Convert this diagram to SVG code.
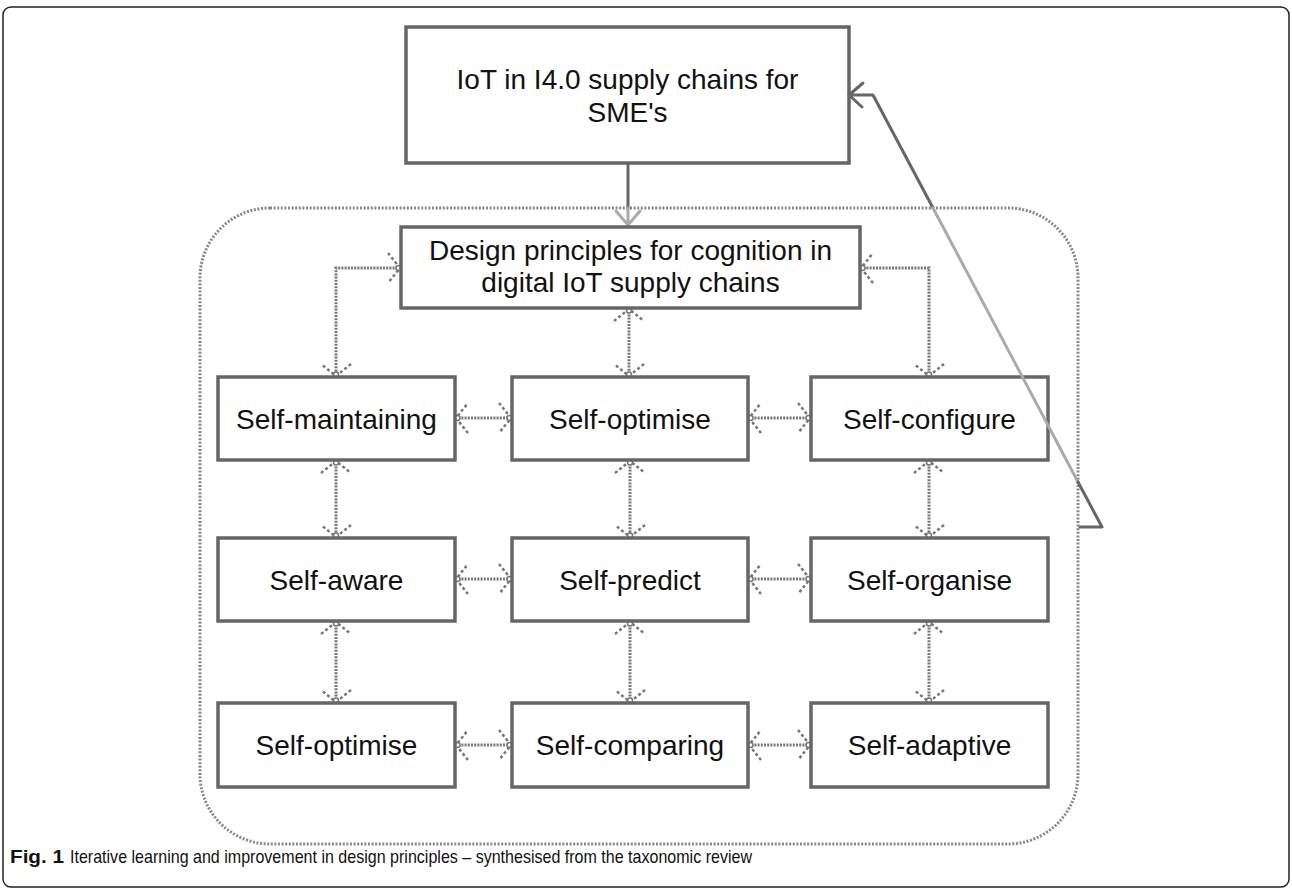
<svg xmlns="http://www.w3.org/2000/svg" width="1292" height="889" viewBox="0 0 1292 889">
<defs>
<style>
.box{fill:#fff;stroke:#666;stroke-width:3.5}
.lbl{font-family:"Liberation Sans",Arial,Helvetica,sans-serif;font-size:28px;fill:#111;text-anchor:middle}
.dot{fill:none;stroke:#777;stroke-width:3;stroke-dasharray:2 1.2;marker-start:url(#dh);marker-end:url(#dh)}
.cont{fill:none;stroke:#888;stroke-width:3;stroke-dasharray:2 1.6}
.dark{fill:none;stroke:#666;stroke-width:3;stroke-linecap:round;stroke-linejoin:round}
.light{fill:none;stroke:#aaa;stroke-width:3;stroke-linecap:round;stroke-linejoin:round}
.cap{font-family:"Liberation Sans",Arial,Helvetica,sans-serif;font-size:19px;fill:#111}
</style>
<marker id="dh" markerUnits="userSpaceOnUse" orient="auto-start-reverse" refX="0" refY="0" markerWidth="40" markerHeight="40" overflow="visible">
<path d="M -13 -15 L -1 0 L -13 15" fill="none" stroke="#777" stroke-width="2.5" stroke-dasharray="3 2.5"/>
<circle cx="-2.5" cy="0" r="2.5" fill="#fff" stroke="#777" stroke-width="1.5"/>
</marker>
</defs>
<rect x="3" y="7" width="1286" height="880" rx="8" fill="none" stroke="#222" stroke-width="1.5"/>
<g id="container">
<rect class="cont" x="200" y="208" width="878" height="636" rx="70"/>
</g>
<g id="connectors">
<path class="dark" d="M628 163 V208"/>
<path class="light" d="M628 208 V225 M616 211 L628 225 L640 211"/>
<path class="dot" d="M401 268 H336 V377"/>
<path class="dot" d="M860 268 H929 V377"/>
<path class="dot" d="M629 308 V377"/>
<path class="dot" d="M455 418 H512"/>
<path class="dot" d="M748 418 H811"/>
<path class="dot" d="M455 579 H512"/>
<path class="dot" d="M748 579 H811"/>
<path class="dot" d="M455 745 H512"/>
<path class="dot" d="M748 745 H811"/>
<path class="dot" d="M336 460 V538"/>
<path class="dot" d="M336 621 V703"/>
<path class="dot" d="M630 460 V538"/>
<path class="dot" d="M630 621 V703"/>
<path class="dot" d="M929 460 V538"/>
<path class="dot" d="M929 621 V703"/>
</g>
<g id="n-top"><rect class="box" x="406" y="27" width="443" height="136"/><text class="lbl" x="627.5" y="89">IoT in I4.0 supply chains for</text><text class="lbl" x="627.5" y="122">SME's</text></g>
<g id="n-design"><rect class="box" x="401" y="227" width="459" height="81"/><text class="lbl" x="630.5" y="260">Design principles for cognition in</text><text class="lbl" x="630.5" y="292">digital IoT supply chains</text></g>
<g id="n-maintaining"><rect class="box" x="218" y="377" width="237" height="83"/><text class="lbl" x="336.5" y="429">Self-maintaining</text></g>
<g id="n-optimise1"><rect class="box" x="512" y="377" width="236" height="83"/><text class="lbl" x="630" y="429">Self-optimise</text></g>
<g id="n-configure"><rect class="box" x="811" y="377" width="237" height="83"/><text class="lbl" x="929.5" y="429">Self-configure</text></g>
<g id="n-aware"><rect class="box" x="218" y="538" width="237" height="83"/><text class="lbl" x="336.5" y="590">Self-aware</text></g>
<g id="n-predict"><rect class="box" x="512" y="538" width="236" height="83"/><text class="lbl" x="630" y="590">Self-predict</text></g>
<g id="n-organise"><rect class="box" x="811" y="538" width="237" height="83"/><text class="lbl" x="929.5" y="590">Self-organise</text></g>
<g id="n-optimise2"><rect class="box" x="218" y="703" width="237" height="84"/><text class="lbl" x="336.5" y="755">Self-optimise</text></g>
<g id="n-comparing"><rect class="box" x="512" y="703" width="236" height="84"/><text class="lbl" x="630" y="755">Self-comparing</text></g>
<g id="n-adaptive"><rect class="box" x="811" y="703" width="237" height="84"/><text class="lbl" x="929.5" y="755">Self-adaptive</text></g>
<g id="feedback">
<path class="dark" d="M863 83 L849 95 L862 107 M849 95 H873 L933 208"/>
<path class="light" d="M933 208 L1078 482"/>
<path class="dark" d="M1078 482 L1102 527 H1080"/>
</g>
<g id="caption">
<text class="cap" x="10" y="863"><tspan font-weight="bold" textLength="54" lengthAdjust="spacingAndGlyphs">Fig. 1</tspan><tspan x="70" textLength="682" lengthAdjust="spacingAndGlyphs">Iterative learning and improvement in design principles – synthesised from the taxonomic review</tspan></text>
</g>
</svg>
